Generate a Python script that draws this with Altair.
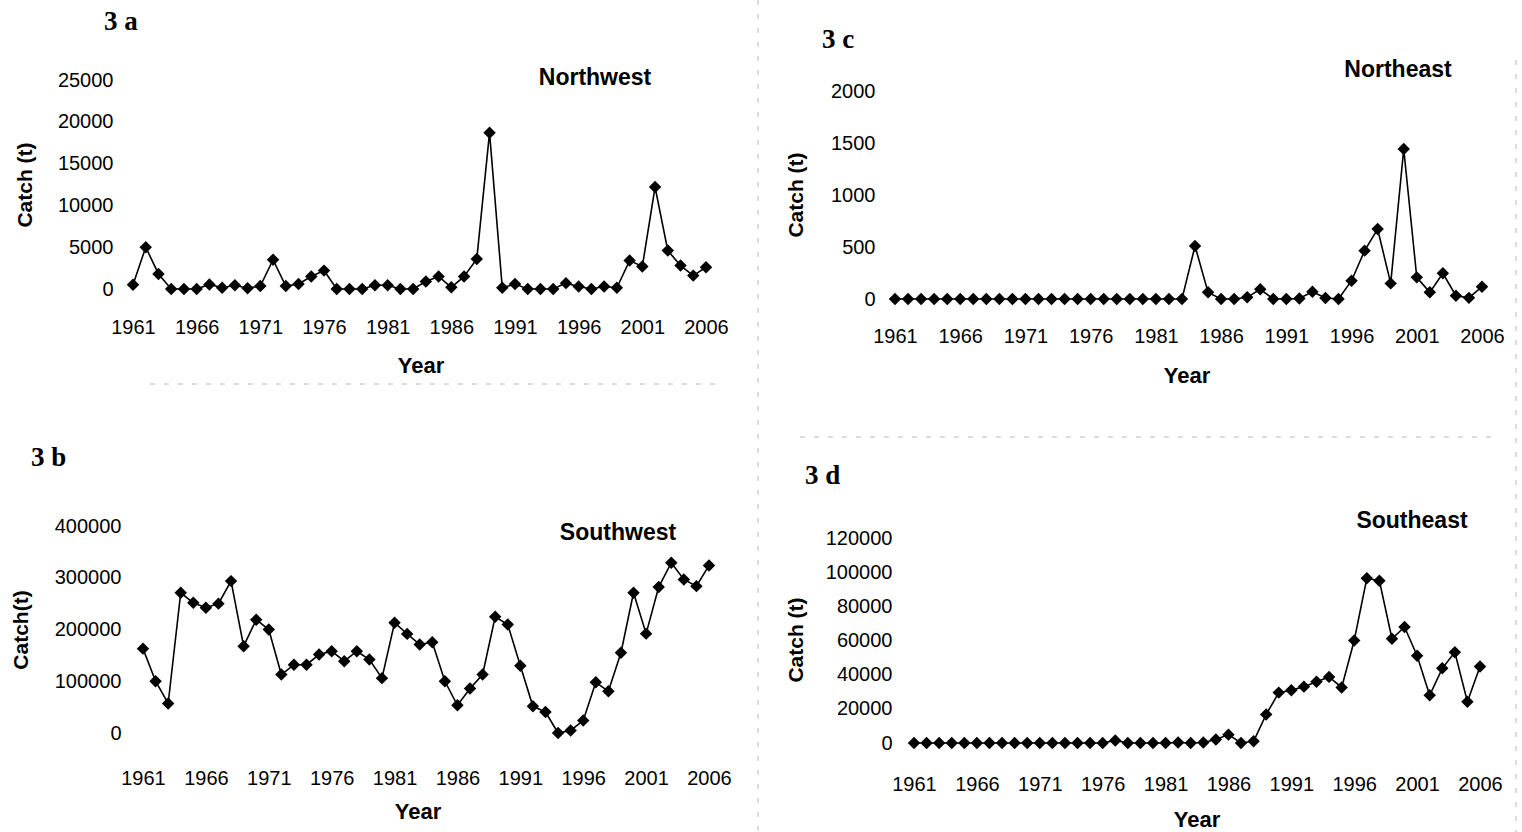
import altair as alt
import pandas as pd

# ---------------- data ----------------
years = list(range(1961, 2007))

northwest = [500, 5000, 1800, 0, 0, 0, 550, 150, 450, 100, 350, 3500, 350, 600, 1500, 2200, 0, 0, 0,
             450, 450, 0, 0, 900, 1500, 200, 1500, 3600, 18700, 150, 600, 0, 0, 0, 700, 300, 0, 300,
             150, 3400, 2700, 12200, 4600, 2800, 1600, 2600]

northeast = [0, 0, 0, 0, 0, 0, 0, 0, 0, 0, 0, 0, 0, 0, 0, 0, 0, 0, 0, 0, 0, 0, 0,
             510, 64, 0, 0, 16, 93, 0, 0, 5, 70, 10, 0, 176, 465, 673, 150, 1442, 208, 64, 247,
             32, 11, 118]

southwest = [163000, 100000, 57000, 271000, 251500, 242000, 250000, 293500, 167700, 219000,
             200000, 113000, 132000, 132000, 151500, 158000, 138700, 158000, 142000,
             106000, 213000, 191500, 171000, 175500, 100000, 53500, 86000, 113000, 224500,
             209600, 130000, 51600, 40600, 0, 5000, 24000, 98000, 80600, 155000, 271000,
             192000, 282000, 329000, 296700, 283800, 323800]

southeast = [0, 0, 0, 0, 0, 0, 0, 0, 0, 0, 0, 0, 0, 0, 0, 0, 1500, 0, 0, 0, 0, 300, 0, 300,
             2000, 4900, 0, 1000, 16700, 29500, 30900, 33000, 35800, 38700, 32500, 60000,
             96400, 95000, 61000, 67900, 51100, 27900, 43700, 53100, 24200, 44800]

year_ticks = [1961, 1966, 1971, 1976, 1981, 1986, 1991, 1996, 2001, 2006]
nw_ticks = [0, 5000, 10000, 15000, 20000, 25000]
ne_ticks = [0, 500, 1000, 1500, 2000]
sw_ticks = [0, 100000, 200000, 300000, 400000]
se_ticks = [0, 20000, 40000, 60000, 80000, 100000, 120000]

region_names = ["Northwest", "Northeast", "Southwest", "Southeast"]
panel_tags = ["3 a", "3 c", "3 b", "3 d"]
y_titles = ["Catch (t)", "Catch (t)", "Catch(t)", "Catch (t)"]
x_title = "Year"

# ---------------- layout ----------------
W, H = 1522, 832
SANS = "Liberation Sans"
SERIF = "Liberation Serif"


def panel(values, x_range, y_domain, y_range, y_ticks, y_axis_x, x_axis_y):
    df = pd.DataFrame({"Year": years, "Catch": values})
    x = alt.X(
        "Year:Q",
        scale=alt.Scale(domain=[1961, 2006], range=x_range, nice=False, zero=False),
        axis=alt.Axis(orient="bottom", offset=x_axis_y - H, values=year_ticks, format="d",
                      title=None, domain=False, ticks=False, tickSize=0, grid=False,
                      labelPadding=0, labelBaseline="middle", labelFont=SANS, labelFontSize=20,
                      labelColor="black", labelOverlap=False, labelFlush=False),
    )
    y = alt.Y(
        "Catch:Q",
        scale=alt.Scale(domain=y_domain, range=y_range, nice=False, zero=False),
        axis=alt.Axis(orient="left", offset=-y_axis_x, values=y_ticks, format="d",
                      title=None, domain=False, ticks=False, tickSize=0, grid=False,
                      labelPadding=0, labelFont=SANS, labelFontSize=20, labelColor="black",
                      labelOverlap=False, labelFlush=False),
    )
    return alt.Chart(df).mark_line(
        color="black", strokeWidth=1.6,
        point=alt.OverlayMarkDef(shape="diamond", filled=True, size=155, color="black", opacity=1),
    ).encode(x=x, y=y)


def label(text, x, y, size, font=SANS, weight="bold", angle=0, align="center", baseline="middle"):
    return alt.Chart(alt.Data(values=[{}])).mark_text(
        text=text, font=font, fontSize=size, fontWeight=weight, angle=angle,
        align=align, baseline=baseline, color="black",
    ).encode(x=alt.value(x), y=alt.value(y))


def faint(x1, x2, y1, y2):
    return alt.Chart(alt.Data(values=[{}])).mark_rule(
        color="#9a9a9a", strokeWidth=1, strokeDash=[5, 9], opacity=0.7,
    ).encode(x=alt.value(x1), x2=alt.value(x2), y=alt.value(y1), y2=alt.value(y2))


pa = panel(northwest, [133, 706], [0, 25000], [289, 80], nw_ticks, 113, 327)
pc = panel(northeast, [895, 1482], [0, 2000], [299, 91], ne_ticks, 875, 336)
pb = panel(southwest, [143, 709], [0, 400000], [733, 526], sw_ticks, 121, 778)
pd_ = panel(southeast, [914, 1480], [0, 120000], [743, 538], se_ticks, 892, 784)

texts = [
    label(region_names[0], 595, 78, 23),
    label(region_names[1], 1398, 70, 23),
    label(region_names[2], 618, 533, 23),
    label(region_names[3], 1412, 521, 23),
    label(panel_tags[0], 104, 30, 27, font=SERIF, align="left", baseline="alphabetic"),
    label(panel_tags[1], 822, 48, 27, font=SERIF, align="left", baseline="alphabetic"),
    label(panel_tags[2], 31, 466, 27, font=SERIF, align="left", baseline="alphabetic"),
    label(panel_tags[3], 805, 484, 27, font=SERIF, align="left", baseline="alphabetic"),
    label(y_titles[0], 26, 185, 21, angle=270),
    label(y_titles[1], 797, 195, 21, angle=270),
    label(y_titles[2], 22, 630, 21, angle=270),
    label(y_titles[3], 797, 640, 21, angle=270),
    label(x_title, 421, 366, 22),
    label(x_title, 1187, 376, 22),
    label(x_title, 418, 812, 22),
    label(x_title, 1197, 820, 22),
]

borders = [
    faint(150, 720, 384, 384),
    faint(800, 1500, 437, 437),
    faint(758, 758, 0, 832),
    faint(1516, 1516, 60, 832),
]

chart = alt.layer(*borders, pa, pc, pb, pd_, *texts).resolve_scale(
    x="independent", y="independent"
).properties(
    width=W, height=H, autosize=alt.AutoSizeParams(type="none"), padding=0,
    background="white",
).configure_view(stroke=None)

chart.save("out.html", embed_options={"renderer": "svg", "actions": False})
